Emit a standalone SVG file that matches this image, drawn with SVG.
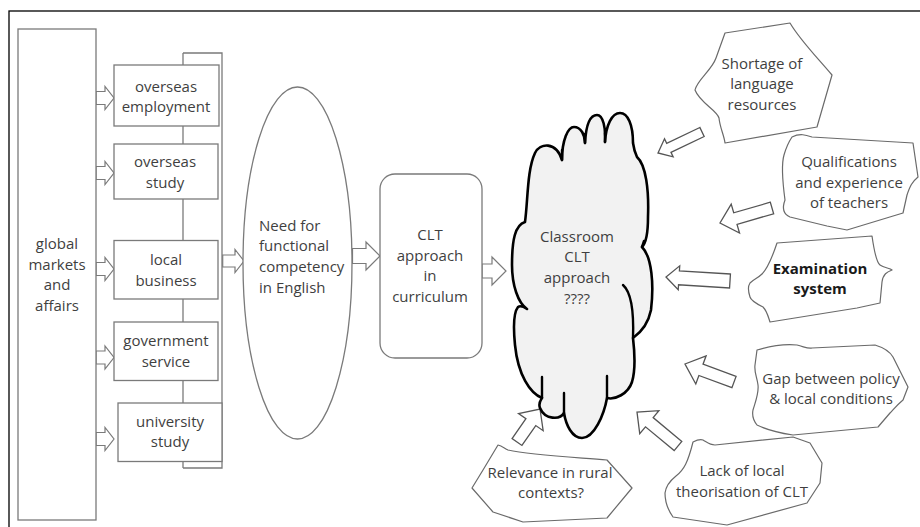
<svg xmlns="http://www.w3.org/2000/svg" width="920" height="527" viewBox="0 0 920 527">
<style>
text{font-family:"Open Sans","Liberation Sans",sans-serif;font-size:15px;fill:#3f3f3f;text-anchor:middle}
.box{fill:#fff;stroke:#7a7a7a;stroke-width:1.3}
.ln{fill:none;stroke:#7a7a7a;stroke-width:1.3}
.arr{fill:#fff;stroke:#7a7a7a;stroke-width:1.2;stroke-linejoin:miter}
.rarr{fill:#fff;stroke:#555;stroke-width:1.3}
.hand{fill:#fff;stroke:#6a6a6a;stroke-width:1.2;stroke-linejoin:round}
.cloud{fill:#f2f2f2;stroke:#000;stroke-width:2.6;stroke-linejoin:round}
.cin{fill:none;stroke:#000;stroke-width:2.4;stroke-linecap:round}
.bold{font-weight:bold;fill:#1a1a1a}
</style>
<rect x="9" y="11" width="930" height="540" fill="none" stroke="#000" stroke-width="1.3"/>

<g id="connectors">
  <polyline class="ln" points="183,53 222,53 222,468 183,468"/>
  <line class="ln" x1="183" y1="53" x2="183" y2="468"/>
  <polygon class="arr" points="96,91.5 105,91.5 105,86.5 114,98 105,109.5 105,104.5 96,104.5"/>
  <polygon class="arr" points="96,166.5 105,166.5 105,161.5 114,173 105,184.5 105,179.5 96,179.5"/>
  <polygon class="arr" points="96,262.5 105,262.5 105,257.5 114,269 105,280.5 105,275.5 96,275.5"/>
  <polygon class="arr" points="96,351 105,351 105,346 114,357.5 105,369 105,364 96,364"/>
  <polygon class="arr" points="96,432.5 105,432.5 105,427.5 114,439 105,450.5 105,445.5 96,445.5"/>
  <polygon class="arr" points="222.7,255 235,255 235,249.5 244,261 235,272.5 235,267 222.7,267"/>
  <polygon class="arr" points="352.5,248.5 366,248.5 366,242 380,256 366,270 366,263.5 352.5,263.5"/>
  <polygon class="arr" points="482,264 492,264 492,257 506,271 492,285 492,278 482,278"/>
  <polygon class="rarr" points="699.85,127.49 666.68,143.32 664.52,138.8 658,153 673.14,156.86 670.98,152.34 704.15,136.51"/>
  <polygon class="rarr" points="770.34,202.24 733.71,212.8 731.21,204.16 720,223 739.53,232.98 737.03,224.34 773.66,213.76"/>
  <polygon class="rarr" points="730.44,274.01 679.42,270.82 679.73,265.83 666,277 678.23,289.79 678.54,284.8 729.56,287.99"/>
  <polygon class="rarr" points="736.07,376.37 703.03,364.23 706.13,355.78 685,364 695.79,383.94 698.89,375.49 731.93,387.63"/>
  <polygon class="rarr" points="681.83,441.38 653.15,417.59 658.9,410.66 637,412 639.74,433.76 645.49,426.83 674.17,450.62"/>
  <polygon class="rarr" points="521.92,445.43 535.77,425.56 543.16,430.71 540,409 518.54,413.55 525.93,418.7 512.08,438.57"/>
</g>

<g id="global">
  <rect class="box" x="18" y="29" width="78" height="491"/>
  <text x="57" y="249">global</text>
  <text x="57" y="269.7">markets</text>
  <text x="57" y="290.4">and</text>
  <text x="57" y="311.1">affairs</text>
</g>
<g id="overseas-employment">
  <rect class="box" x="114" y="65" width="105" height="61"/>
  <text x="166" y="91.5">overseas</text>
  <text x="166" y="112.2">employment</text>
</g>
<g id="overseas-study">
  <rect class="box" x="114" y="144" width="104" height="55"/>
  <text x="165" y="167">overseas</text>
  <text x="165" y="187.7">study</text>
</g>
<g id="local-business">
  <rect class="box" x="114" y="240.5" width="104" height="58.5"/>
  <text x="166" y="265">local</text>
  <text x="166" y="285.7">business</text>
</g>
<g id="government-service">
  <rect class="box" x="114" y="322" width="104" height="58.5"/>
  <text x="166" y="346">government</text>
  <text x="166" y="366.7">service</text>
</g>
<g id="university-study">
  <rect class="box" x="118" y="403" width="104" height="58.5"/>
  <text x="170" y="426.7">university</text>
  <text x="170" y="447.4">study</text>
</g>
<g id="need">
  <ellipse class="box" cx="297.5" cy="263" rx="54.5" ry="176"/>
  <text x="259" y="230.7" style="text-anchor:start">Need for</text>
  <text x="259" y="251.4" style="text-anchor:start">functional</text>
  <text x="259" y="272.1" style="text-anchor:start">competency</text>
  <text x="259" y="292.8" style="text-anchor:start">in English</text>
</g>
<g id="clt-curriculum">
  <rect class="box" x="380" y="174" width="102" height="184" rx="15" ry="15"/>
  <text x="430" y="240">CLT</text>
  <text x="430" y="260.7">approach</text>
  <text x="430" y="281.4">in</text>
  <text x="430" y="302.1">curriculum</text>
</g>
<g id="classroom">
  <path class="cloud" d="M525,222 C528,200 527,170 535,153 C540,143 556,141 562,160 C562,140 568,127 574,127 C581,127 585,135 585,143 C586,125 590,115 597,115 C603,115 606,128 605,142 C606,125 612,113 620,113 C628,113 633,125 633,143 C634,150 636,155 637,157 C646,165 649,190 648,217 C648,235 646,243 642,247 C652,257 654,285 651,310 C648,325 640,333 633,338 C635,355 635,372 632,382 C628,394 615,400 607,398 C604,415 594,438 582,438 C572,438 566,425 564,413 C560,420 545,420 540,408 C538,403 541,400 542,398 C530,393 518,375 515,345 C513,325 514,312 518,307 C521,305 524,307 527,309 C518,303 512,285 512,265 C512,240 515,225 525,222 Z"/>
  <path class="cin" d="M623,285 C631,292 634,310 633,338"/>
  <path class="cin" d="M607,376 L607,398"/>
  <path class="cin" d="M564,393 L564,413"/>
  <path class="cin" d="M542,377 L542,398"/>
  <path class="cin" d="M562,160 L562,150"/>
  <path class="cin" d="M585,143 L585,134"/>
  <path class="cin" d="M605,142 L605,133"/>
  <path class="cin" d="M642,247 L644,241"/>
  <text x="577" y="241.5">Classroom</text>
  <text x="577" y="262.2">CLT</text>
  <text x="577" y="282.9">approach</text>
  <text x="577" y="303.6">????</text>
</g>
<g id="shortage">
  <path class="hand" d="M725,33 L790,23 C800,40 815,55 832,75 L817,127 L725,143 C724,135 720,128 719,118 C717,110 700,103 695,90 C697,80 712,70 716,58 Z"/>
  <text x="762" y="68.5">Shortage of</text>
  <text x="762" y="89">language</text>
  <text x="762" y="109.5">resources</text>
</g>
<g id="qualifications">
  <path class="hand" d="M792,137 C800,133 806,135 812,137 L913,143 L918,177 C912,182 910,186 907,195 L903,213 L847,230 L827,226 L790,217 C783,214 782,208 785,200 C783,185 781,165 784,155 C786,148 790,140 792,137 Z"/>
  <text x="849" y="167">Qualifications</text>
  <text x="849" y="187.7">and experience</text>
  <text x="849" y="208.4">of teachers</text>
</g>
<g id="examination">
  <path class="hand" d="M777,243 L872,236 C874,250 876,262 880,265 C884,268 890,268 892,270 C887,272 883,274 882,282 L880,303 L857,308 L770,322 C768,316 767,311 763,307 C757,304 751,301 750,297 C748,291 748,286 750,283 C754,279 758,278 762,274 C768,268 773,255 777,243 Z"/>
  <text class="bold" x="820" y="273.5">Examination</text>
  <text class="bold" x="820" y="294.2">system</text>
</g>
<g id="gap">
  <path class="hand" d="M757,350 C770,346 785,344 797,345 C805,347 808,349 812,348 L875,345 C885,348 890,352 893,357 L908,387 L903,400 C897,405 893,410 890,413 L878,427 L793,435 C780,433 765,429 757,425 C753,420 752,415 753,410 C756,400 759,393 758,385 C757,377 754,372 755,365 Z"/>
  <text x="831" y="383.5">Gap between policy</text>
  <text x="831" y="404.2">&amp; local conditions</text>
</g>
<g id="lack">
  <path class="hand" d="M693,442 C697,440 700,439 703,440 C708,443 710,445 715,445 L793,437 L810,443 L822,463 L820,483 L807,503 L727,525 L673,517 C668,510 665,503 665,493 C666,485 671,480 676,476 C684,470 688,462 693,442 Z"/>
  <text x="742" y="476">Lack of local</text>
  <text x="742" y="496.7">theorisation of CLT</text>
</g>
<g id="relevance">
  <path class="hand" d="M498,445 C502,446 504,448 508,450 C530,455 570,457 607,460 L632,488 L607,518 L523,522 L493,512 L472,488 L483,470 Z"/>
  <text x="550" y="477.5">Relevance in rural</text>
  <text x="551" y="498.2">contexts?</text>
</g>
</svg>
